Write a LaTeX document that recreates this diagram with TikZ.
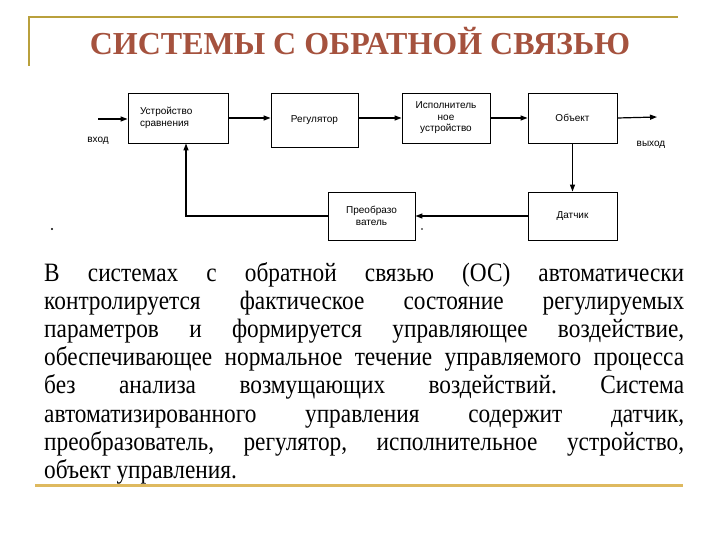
\documentclass[tikz,border=0pt]{standalone}
\usepackage{fontspec}
\setmainfont{Liberation Serif}
\newfontfamily\boxfont{Liberation Sans}
\newfontfamily\bodyfont[FakeStretch=0.88]{Liberation Serif}
\usetikzlibrary{arrows.meta}
\definecolor{titlered}{RGB}{165,82,62}
\definecolor{olivegold}{RGB}{185,160,60}
\definecolor{lightgold}{RGB}{222,185,95}
\tikzset{
  blk/.style={draw, line width=0.9pt, font=\boxfont\fontsize{10}{11.5}\selectfont, align=center, inner sep=1pt},
  lbl/.style={font=\boxfont\fontsize{10}{11.5}\selectfont, inner sep=0pt},
  arr/.style={line width=1.2pt, -{Triangle[length=7pt,width=5pt]}}
}
\begin{document}
\begin{tikzpicture}[x=1pt,y=-1pt]
  \useasboundingbox (0,0) rectangle (720,540);
  \draw[olivegold, line width=2pt] (29,66) -- (29,17) -- (678,17);
  \node[titlered, anchor=base, inner sep=0pt, font=\bfseries\fontsize{32}{36}\selectfont] (title) at (360,55) {СИСТЕМЫ С ОБРАТНОЙ СВЯЗЬЮ};

  \node[blk, minimum width=100pt, minimum height=50pt, text width=76pt, align=left] (cmp) at (178,118) {Устройство\\сравнения};
  \node[blk, minimum width=87pt, minimum height=54pt] (reg) at (314.5,120) {Регулятор};
  \node[blk, minimum width=88pt, minimum height=50pt] (act) at (446,118) {Исполнитель\\ное\\устройство};
  \node[blk, minimum width=89pt, minimum height=50pt] (obj) at (572.5,118) {Объект};
  \node[blk, minimum width=89pt, minimum height=48pt] (sens) at (572.5,216) {Датчик};
  \node[blk, minimum width=87pt, minimum height=48pt] (conv) at (371.5,216) {Преобразо\\ватель};

  \coordinate (in) at (98,119);
  \coordinate (out) at (657,117);
  \coordinate (fb) at (186,216);
  \node[lbl] (lin) at (98,141) {вход};
  \node[lbl] (lout) at (651,145) {выход};

  \draw[arr] (in) -- (in -| cmp.west);
  \draw[arr] (cmp.east) -- (cmp.east -| reg.west);
  \draw[arr] (reg.east |- act.west) -- (act.west);
  \draw[arr] (act.east) -- (obj.west);
  \draw[arr] (obj.east) -- (out);
  \draw[arr] (obj.south) -- (sens.north);
  \draw[arr] (sens.west) -- (conv.east);
  \draw[arr] (conv.west) -- (fb) -- (fb |- cmp.south);

  \fill (52,229) circle (1.1pt);
  \fill (422,229) circle (0.9pt);

  \node[anchor=base west, inner sep=0pt, text width=640pt, align=justify,
        font=\bodyfont\fontsize{26.5}{28.2}\selectfont] (body) at (44,281)
  {\frenchspacing\hyphenpenalty=10000 \exhyphenpenalty=10000
   В системах с обратной связью (ОС) автоматически\linebreak
   контролируется фактическое состояние регулируемых\linebreak
   параметров и формируется управляющее воздействие,\linebreak
   обеспечивающее нормальное течение управляемого процесса\linebreak
   без анализа возмущающих воздействий. Система\linebreak
   автоматизированного управления содержит датчик,\linebreak
   преобразователь, регулятор, исполнительное устройство,\linebreak
   объект управления.};
  \draw[lightgold, line width=3pt] (35,485) -- (683,485);
\end{tikzpicture}
\end{document}
